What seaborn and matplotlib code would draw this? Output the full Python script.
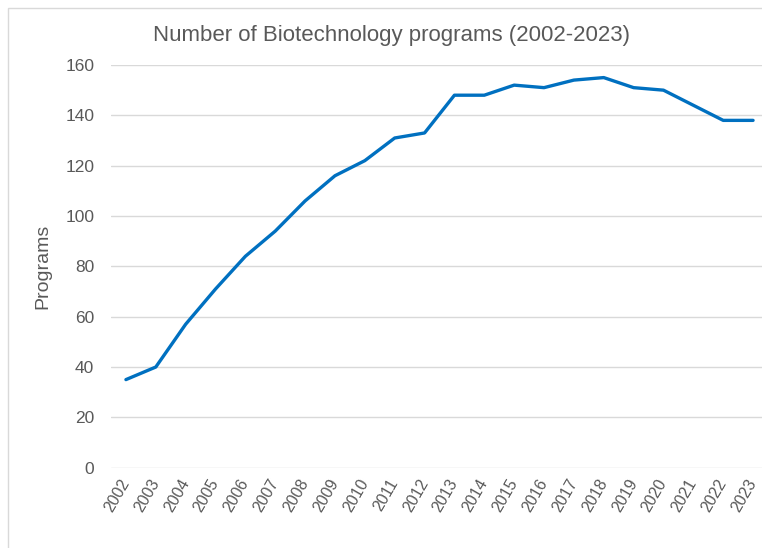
import pandas as pd
import seaborn as sns
import matplotlib.pyplot as plt
from matplotlib.patches import Rectangle

# values
years = list(range(2002, 2024))
programs = [35, 40, 57, 71, 84, 94, 106, 116, 122, 131, 133,
            148, 148, 152, 151, 154, 155, 151, 150, 144, 138, 138]
y_ticks = [0, 20, 40, 60, 80, 100, 120, 140, 160]

df = pd.DataFrame({"Year": years, "Programs": programs})

sns.set_style("white")
plt.rcParams['font.family'] = ['Liberation Sans', 'DejaVu Sans']

fig = plt.figure(figsize=(7.62, 5.48), dpi=100)
ax = fig.add_axes([111 / 762, 1 - 467.7 / 548, 657 / 762, (467.7 - 65) / 548])

sns.lineplot(data=df, x="Year", y="Programs", ax=ax, color="#0070C0", linewidth=2.4)

ax.set_xlim(2001.5, 2023.5)
ax.set_ylim(0, 160)
ax.set_yticks(y_ticks)
ax.set_xticks(years)
ax.set_xticklabels([str(y) for y in years], rotation=60, ha="right", va="center",
                   rotation_mode="anchor", fontsize=11.5, color="#595959")
ax.tick_params(axis="y", labelsize=12.5, labelcolor="#595959", length=0, pad=12)
ax.tick_params(axis="x", length=0, pad=9)
ax.grid(axis="y", color="#d9d9d9", linewidth=1)
ax.set_axisbelow(True)
for s in ax.spines.values():
    s.set_visible(False)

ax.set_xlabel("")
ax.set_ylabel("Programs", fontsize=14, color="#595959", labelpad=10)
fig.text(0.514, 1 - 35 / 548, "Number of Biotechnology programs (2002-2023)",
         ha="center", va="center", fontsize=16, color="#595959")

# light chart frame, cut off on the right and bottom like the screenshot
fig.patches.append(Rectangle((8 / 762, -0.1), 1.2, 1.1 - 8 / 548, fill=False,
                             edgecolor="#d9d9d9", linewidth=1,
                             transform=fig.transFigure, figure=fig))

plt.savefig("out.png", dpi=100)
